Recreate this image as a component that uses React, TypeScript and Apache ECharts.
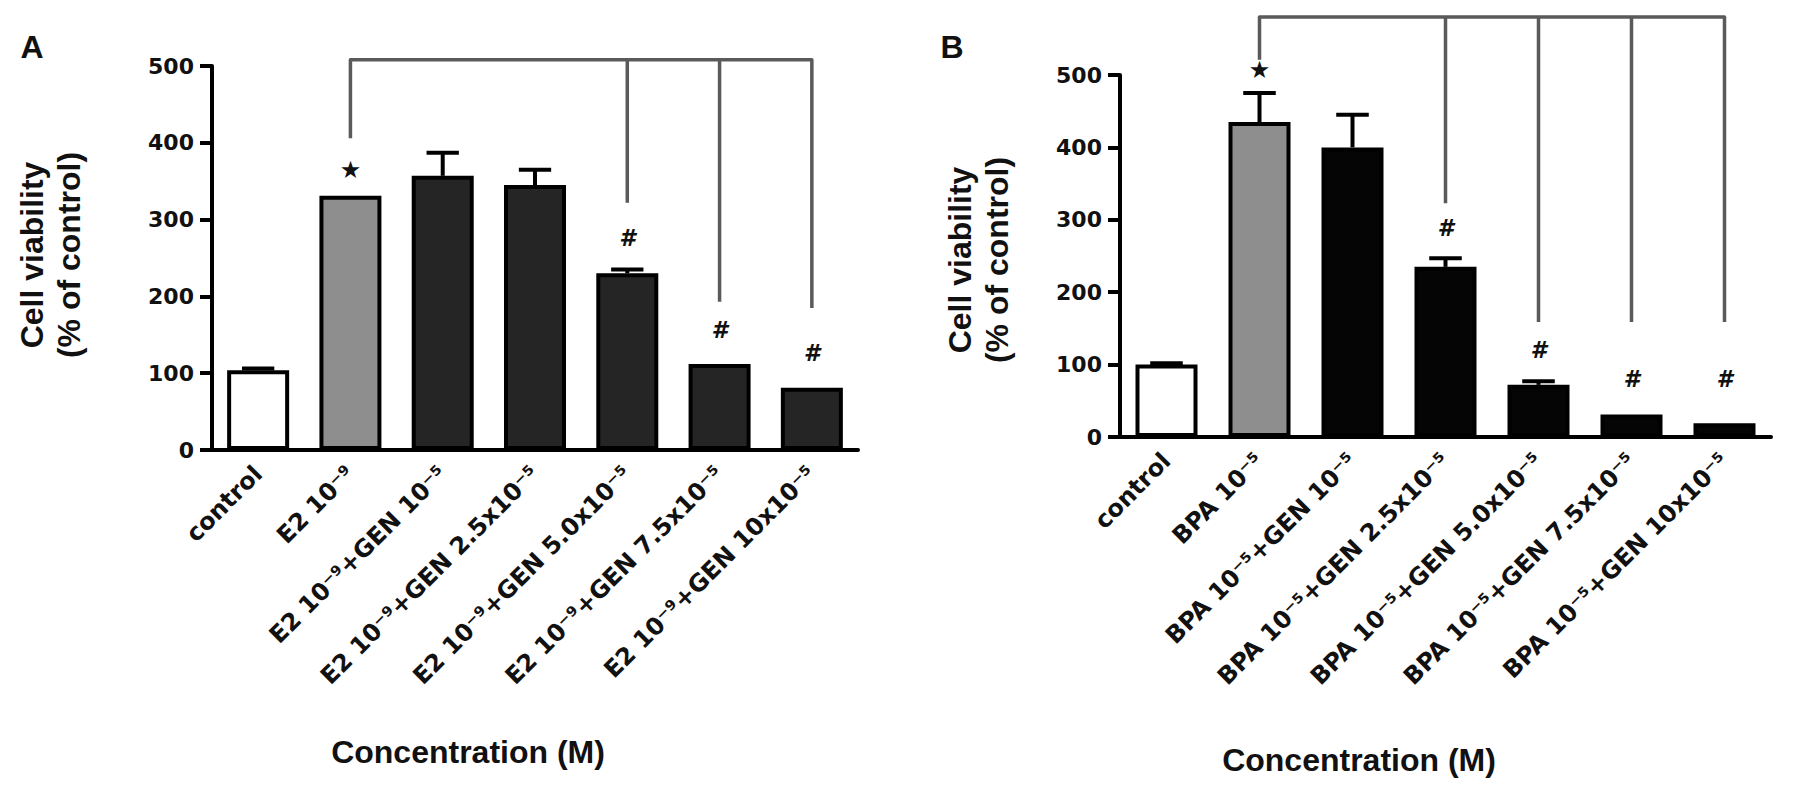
import React, { useEffect, useRef } from "react";
import * as echarts from "echarts";

// ---------- Data ----------
const yTicks = [0, 100, 200, 300, 400, 500];

const categoriesA = [
  "control",
  "E2 10⁻⁹",
  "E2 10⁻⁹+GEN 10⁻⁵",
  "E2 10⁻⁹+GEN 2.5x10⁻⁵",
  "E2 10⁻⁹+GEN 5.0x10⁻⁵",
  "E2 10⁻⁹+GEN 7.5x10⁻⁵",
  "E2 10⁻⁹+GEN 10x10⁻⁵",
];
const valuesA = [104, 331, 357, 345, 230, 112, 81];
const errorsA = [2, 0, 30, 20, 5, 0, 0];
const symbolsA = ["", "★", "", "", "#", "#", "#"];
const symbolValueA = [0, 365, 0, 0, 276, 156, 126];
const bracketTopA = 508;
const bracketStartA = [1, 406];
const bracketDropsA = [
  [4, 322],
  [5, 193],
  [6, 185],
];

const categoriesB = [
  "control",
  "BPA 10⁻⁵",
  "BPA 10⁻⁵+GEN 10⁻⁵",
  "BPA 10⁻⁵+GEN 2.5x10⁻⁵",
  "BPA 10⁻⁵+GEN 5.0x10⁻⁵",
  "BPA 10⁻⁵+GEN 7.5x10⁻⁵",
  "BPA 10⁻⁵+GEN 10x10⁻⁵",
];
const valuesB = [100, 435, 400, 235, 72, 31, 19];
const errorsB = [2, 40, 45, 12, 5, 0, 0];
const symbolsB = ["", "★", "", "#", "#", "#", "#"];
const symbolValueB = [0, 507, 0, 289, 120, 80, 80];
const bracketTopB = 580;
const bracketStartB = [1, 521];
const bracketDropsB = [
  [3, 323],
  [4, 159],
  [5, 159],
  [6, 159],
];

const yTitle = "Cell viability\n(% of control)";
const xTitle = "Concentration (M)";

// ---------- Styles ----------
const WHITE = "#ffffff";
const GRAY = "#8e8e8e";
const DARK_A = "#252525";
const DARK_B = "#050505";
const BRACKET = "#5a5a5a";
const TICK_FONT = '"DejaVu Sans", sans-serif';
const TITLE_FONT = '"Liberation Sans", Arial, sans-serif';

function fillFor(i: number, dark: string) {
  if (i === 0) return WHITE;
  if (i === 1) return GRAY;
  return dark;
}

function makeAxes(idx: number, cats: string[]) {
  const xAxis = {
    type: "category",
    gridIndex: idx,
    data: cats,
    boundaryGap: true,
    axisLine: { lineStyle: { color: "#000", width: 4 } },
    axisTick: { alignWithLabel: true, length: 10, lineStyle: { color: "#000", width: 4 } },
    axisLabel: {
      rotate: 45,
      margin: 20,
      interval: 0,
      color: "#111",
      fontFamily: TICK_FONT,
      fontWeight: "bold",
      fontSize: 24,
    },
    splitLine: { show: false },
  };
  const yAxis = {
    type: "value",
    gridIndex: idx,
    min: yTicks[0],
    max: yTicks[yTicks.length - 1],
    interval: yTicks[1] - yTicks[0],
    axisLine: { show: true, lineStyle: { color: "#000", width: 4 } },
    axisTick: { show: true, length: 12, lineStyle: { color: "#000", width: 4 } },
    axisLabel: {
      margin: 18,
      color: "#111",
      fontFamily: TICK_FONT,
      fontWeight: "bold",
      fontSize: 22,
    },
    splitLine: { show: false },
  };
  return { xAxis, yAxis };
}

function barSeries(idx: number, values: number[], dark: string) {
  return {
    type: "bar",
    xAxisIndex: idx,
    yAxisIndex: idx,
    barWidth: 62,
    z: 2,
    data: values.map((v, i) => ({
      value: v,
      itemStyle: { color: fillFor(i, dark), borderColor: "#000", borderWidth: 4 },
    })),
  };
}

function errorSeries(idx: number, values: number[], errors: number[]) {
  return {
    type: "custom",
    xAxisIndex: idx,
    yAxisIndex: idx,
    z: 3,
    silent: true,
    clip: false,
    encode: { x: 0, y: [1, 2] },
    data: values
      .map((v, i) => [i, v, v + errors[i]])
      .filter((_, i) => errors[i] > 0),
    renderItem: (_params: any, api: any) => {
      const x = api.value(0);
      const base = api.coord([x, api.value(1)]);
      const top = api.coord([x, api.value(2)]);
      const half = api.size([1, 0])[0] * 0.175;
      return {
        type: "group",
        children: [
          {
            type: "line",
            shape: { x1: base[0], y1: base[1], x2: top[0], y2: top[1] },
            style: { stroke: "#000", lineWidth: 4 },
          },
          {
            type: "line",
            shape: { x1: top[0] - half, y1: top[1], x2: top[0] + half, y2: top[1] },
            style: { stroke: "#000", lineWidth: 4 },
          },
        ],
      };
    },
  };
}

function symbolSeries(idx: number, symbols: string[], yVals: number[]) {
  return {
    type: "custom",
    xAxisIndex: idx,
    yAxisIndex: idx,
    z: 4,
    silent: true,
    clip: false,
    encode: { x: 0, y: 1 },
    data: yVals.map((y, i) => [i, y]).filter((_, i) => symbols[i] !== ""),
    renderItem: (_params: any, api: any) => {
      const i = api.value(0);
      const p = api.coord([i, api.value(1)]);
      const sym = symbols[i];
      const isStar = sym === "★";
      return {
        type: "text",
        x: p[0],
        y: p[1],
        style: {
          text: sym,
          align: "center",
          verticalAlign: "middle",
          fill: "#111",
          font: isStar
            ? `bold 24px ${TICK_FONT}`
            : `italic bold 23px ${TICK_FONT}`,
        },
      };
    },
  };
}

function bracketSeries(idx: number, top: number, start: number[], drops: number[][]) {
  return {
    type: "custom",
    xAxisIndex: idx,
    yAxisIndex: idx,
    z: 5,
    silent: true,
    clip: false,
    encode: { x: 0, y: 1 },
    data: [[start[0], top]],
    renderItem: (_params: any, api: any) => {
      const s = api.coord([start[0], start[1]]);
      const st = api.coord([start[0], top]);
      const last = drops[drops.length - 1];
      const le = api.coord([last[0], last[1]]);
      const lt = api.coord([last[0], top]);
      const children: any[] = [
        {
          type: "polyline",
          shape: { points: [s, st, lt, le] },
          style: { stroke: BRACKET, lineWidth: 3.5, fill: "none", lineJoin: "round" },
        },
      ];
      drops.slice(0, -1).forEach((d) => {
        const a = api.coord([d[0], top]);
        const b = api.coord([d[0], d[1]]);
        children.push({
          type: "line",
          shape: { x1: a[0], y1: a[1], x2: b[0], y2: b[1] },
          style: { stroke: BRACKET, lineWidth: 3.5 },
        });
      });
      return { type: "group", children };
    },
  };
}

function titleText(x: number, y: number, text: string, rotate = false) {
  return {
    type: "text",
    x,
    y,
    rotation: rotate ? Math.PI / 2 : 0,
    style: {
      text,
      align: "center",
      verticalAlign: "middle",
      fill: "#111",
      font: `bold 32px ${TITLE_FONT}`,
      lineHeight: 37,
    },
  };
}

export default function App() {
  const ref = useRef<HTMLDivElement>(null);

  useEffect(() => {
    if (!ref.current) return;
    const chart = echarts.init(ref.current, undefined, { renderer: "svg" });
    const a = makeAxes(0, categoriesA);
    const b = makeAxes(1, categoriesB);
    chart.setOption({
      animation: false,
      backgroundColor: "#ffffff",
      grid: [
        { left: 212, top: 66, width: 646, height: 384 },
        { left: 1120, top: 75, width: 651, height: 362 },
      ],
      xAxis: [a.xAxis, b.xAxis],
      yAxis: [a.yAxis, b.yAxis],
      series: [
        barSeries(0, valuesA, DARK_A),
        errorSeries(0, valuesA, errorsA),
        symbolSeries(0, symbolsA, symbolValueA),
        bracketSeries(0, bracketTopA, bracketStartA, bracketDropsA),
        barSeries(1, valuesB, DARK_B),
        errorSeries(1, valuesB, errorsB),
        symbolSeries(1, symbolsB, symbolValueB),
        bracketSeries(1, bracketTopB, bracketStartB, bracketDropsB),
      ],
      graphic: [
        titleText(32, 47, "A"),
        titleText(952, 47, "B"),
        titleText(50, 255, yTitle, true),
        titleText(978, 260, yTitle, true),
        titleText(468, 752, xTitle),
        titleText(1359, 760, xTitle),
      ],
    });
    return () => chart.dispose();
  }, []);

  return (
    <div
      ref={ref}
      style={{ position: "fixed", left: 0, top: 0, width: 1795, height: 785, background: "#fff" }}
    />
  );
}
